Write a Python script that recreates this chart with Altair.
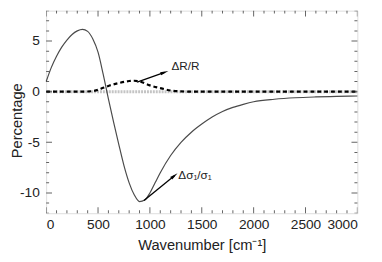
import altair as alt
import pandas as pd

# ---- data ----
wn_solid = [0, 50, 100, 150, 200, 250, 300, 350, 400, 450, 500, 550, 600, 650, 700, 750,
            800, 850, 900, 950, 1000, 1050, 1100, 1200, 1300, 1400, 1500, 1600, 1700, 1800,
            1900, 2000, 2200, 2400, 2600, 2800, 3000]
sigma_vals = [1.0, 2.4, 3.5, 4.4, 5.1, 5.65, 6.0, 6.15, 5.95, 5.2, 3.9, 1.7, -0.7, -3.0, -5.2,
              -7.3, -9.0, -10.2, -10.85, -10.7, -10.0, -9.0, -8.0, -6.3, -5.0, -4.0, -3.2,
              -2.5, -1.95, -1.55, -1.25, -1.0, -0.75, -0.6, -0.52, -0.47, -0.43]

wn_dash = [0, 100, 200, 300, 400, 450, 500, 550, 600, 700, 800, 850, 900, 1000, 1100, 1200,
           1300, 1400, 1500, 2000, 2500, 3000]
dR_vals = [0, 0, 0, 0, 0.02, 0.06, 0.18, 0.38, 0.57, 0.85, 1.05, 1.08, 1.0, 0.62, 0.35, 0.12,
           0.03, 0, 0, 0, 0, 0]

x_major = [0, 500, 1000, 1500, 2000, 2500, 3000]
x_minor = [v for v in range(0, 3001, 100) if v % 500 != 0]
y_major = [-10, -5, 0, 5]
y_minor = [v for v in range(-12, 9) if v % 5 != 0]

arrow_R = {"x": [877, 1141], "y": [0.95, 1.9]}
arrow_S = {"x": [943, 1236], "y": [-10.75, -8.3]}
labels = ["ΔR/R", "Δσ₁/σ₁"]
label_x = [1208, 1274]
label_y = [2.5, -8.2]
arrow_angles = [71, 51]

XMIN, XMAX, YMIN, YMAX = 0, 3000, -12, 8
FONT = "Liberation Sans"

xs = alt.Scale(domain=[XMIN, XMAX], nice=False, zero=False)
ys = alt.Scale(domain=[YMIN, YMAX], nice=False, zero=False)

df_s = pd.DataFrame({"wn": wn_solid, "v": sigma_vals})
df_d = pd.DataFrame({"wn": wn_dash, "v": dR_vals})

base_x = alt.X("wn:Q", scale=xs,
               axis=alt.Axis(values=x_major, ticks=False, domain=False, grid=False,
                             labelExpr="'' + datum.value",
                             labelFontSize=14, labelFont=FONT, labelColor="#222",
                             labelPadding=5, title="Wavenumber [cm⁻¹]", titleFont=FONT,
                             titleFontSize=15, titleFontWeight="normal", titleColor="#222",
                             titlePadding=6))
base_y = alt.Y("v:Q", scale=ys,
               axis=alt.Axis(values=y_major, ticks=False, domain=False, grid=False,
                             labelExpr="'' + datum.value",
                             labelFontSize=14, labelFont=FONT, labelColor="#222",
                             labelPadding=7, title="Percentage", titleFont=FONT,
                             titleFontSize=15, titleFontWeight="normal", titleColor="#222",
                             titleX=-25, titleY=112, titleBaseline="alphabetic",
                             titleAngle=270, titleAlign="center"))

zero = alt.Chart(pd.DataFrame({"v": [0]})).mark_rule(
    color="#c4c4c4", strokeWidth=3, strokeDash=[2, 1]).encode(y=alt.Y("v:Q", scale=ys))

solid = alt.Chart(df_s).mark_line(color="#4a4a4a", strokeWidth=1.2,
                                  interpolate="monotone").encode(x=base_x, y=base_y)
dashed = alt.Chart(df_d).mark_line(color="#000", strokeWidth=2.2, strokeDash=[4, 3],
                                   interpolate="monotone").encode(
    x=alt.X("wn:Q", scale=xs), y=alt.Y("v:Q", scale=ys))

# ticks (inside, all four sides)
tx = pd.DataFrame({"x": x_major + x_minor,
                   "s": [12] * len(x_major) + [6] * len(x_minor)})
ty = pd.DataFrame({"y": y_major + y_minor,
                   "s": [12] * len(y_major) + [6] * len(y_minor)})
tick_layers = []
for yv in [YMIN, YMAX]:
    tick_layers.append(alt.Chart(tx.assign(yy=yv)).mark_tick(
        orient="vertical", color="#222", thickness=1, clip=True).encode(
        x=alt.X("x:Q", scale=xs), y=alt.Y("yy:Q", scale=ys),
        size=alt.Size("s:Q", scale=None, legend=None)))
for xv in [XMIN, XMAX]:
    tick_layers.append(alt.Chart(ty.assign(xx=xv)).mark_tick(
        orient="horizontal", color="#222", thickness=1, clip=True).encode(
        x=alt.X("xx:Q", scale=xs), y=alt.Y("y:Q", scale=ys),
        size=alt.Size("s:Q", scale=None, legend=None)))

# arrows
arrow_layers = []
for i, a in enumerate([arrow_R, arrow_S]):
    d = pd.DataFrame({"wn": a["x"], "v": a["y"]})
    arrow_layers.append(alt.Chart(d).mark_line(color="#000", strokeWidth=1.3).encode(
        x=alt.X("wn:Q", scale=xs), y=alt.Y("v:Q", scale=ys)))
    head = pd.DataFrame({"wn": [a["x"][1]], "v": [a["y"][1]]})
    arrow_layers.append(alt.Chart(head).mark_point(
        shape="M0,-1L0.4,1L-0.4,1Z", filled=True, color="#000", opacity=1,
        size=70, angle=arrow_angles[i]).encode(
        x=alt.X("wn:Q", scale=xs), y=alt.Y("v:Q", scale=ys)))

lab = pd.DataFrame({"t": labels, "wn": label_x, "v": label_y})
texts = alt.Chart(lab).mark_text(align="left", baseline="middle", font=FONT,
                                 fontSize=12, color="#222").encode(
    x=alt.X("wn:Q", scale=xs), y=alt.Y("v:Q", scale=ys), text="t:N")

chart = alt.layer(zero, solid, dashed, *tick_layers, *arrow_layers, texts).properties(
    width=318, height=207,
    autosize=alt.AutoSizeParams(type="none"),
    padding={"left": 39, "top": 0, "right": 17, "bottom": 40},
).configure_view(stroke="#222", strokeWidth=1.5).configure(background="white")

chart.save("out.html", embed_options={"renderer": "svg", "actions": False})
